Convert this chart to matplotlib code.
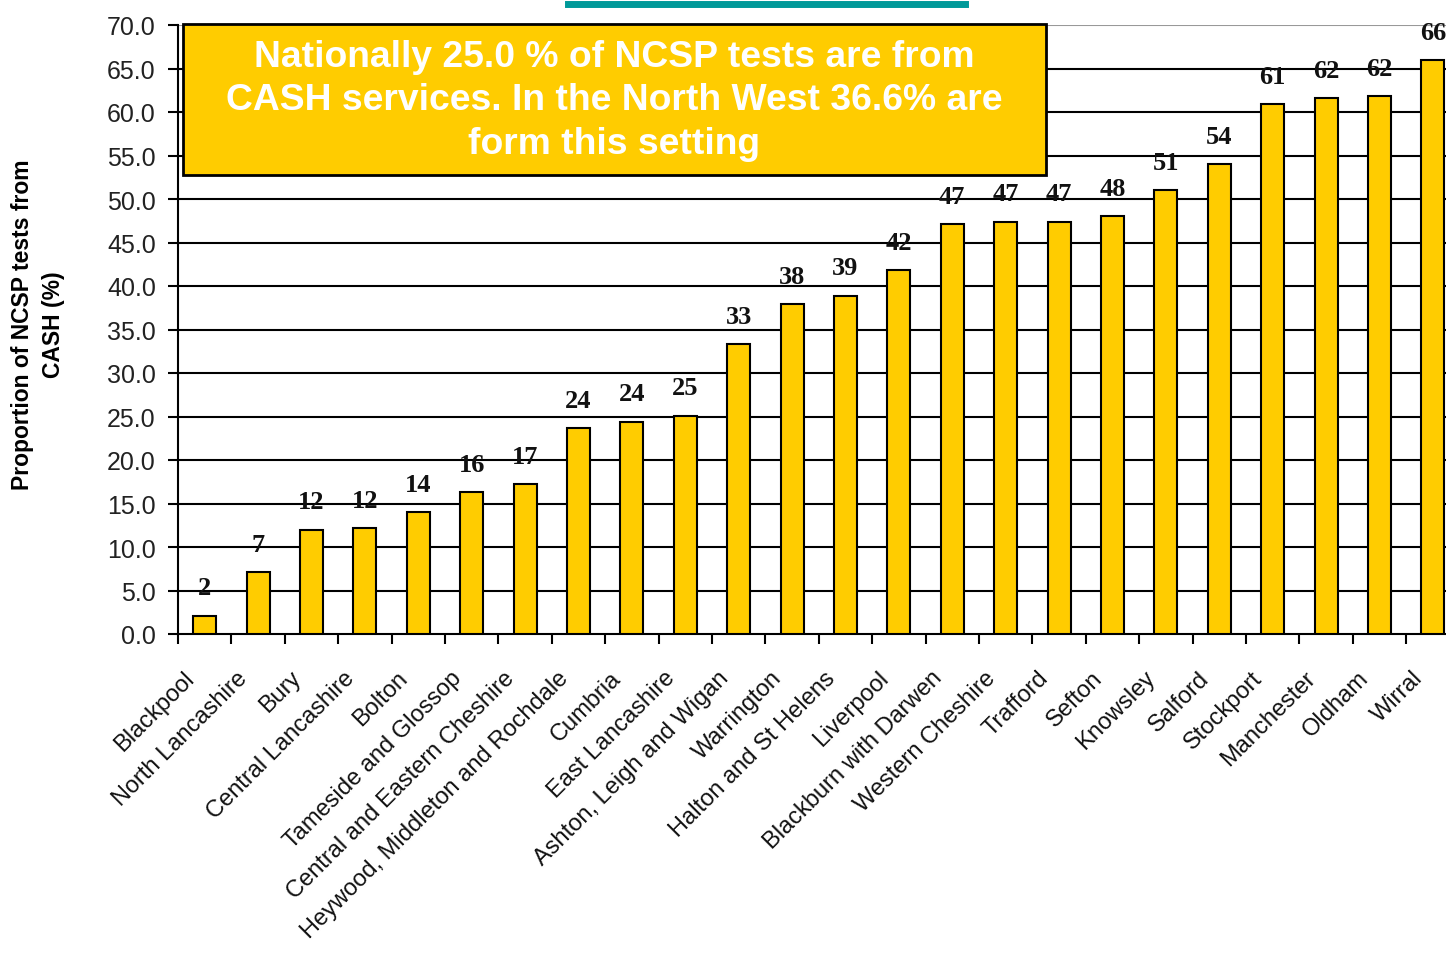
import matplotlib.pyplot as plt
from matplotlib.patches import Rectangle
from matplotlib.lines import Line2D
from matplotlib.transforms import ScaledTranslation

areas = ["Blackpool", "North Lancashire", "Bury", "Central Lancashire", "Bolton",
         "Tameside and Glossop", "Central and Eastern Cheshire",
         "Heywood, Middleton and Rochdale", "Cumbria", "East Lancashire",
         "Ashton, Leigh and Wigan", "Warrington", "Halton and St Helens",
         "Liverpool", "Blackburn with Darwen", "Western Cheshire", "Trafford",
         "Sefton", "Knowsley", "Salford", "Stockport", "Manchester", "Oldham",
         "Wirral"]
cash_pct = [2.1, 7.1, 12.0, 12.2, 14.0, 16.3, 17.2, 23.7, 24.4, 25.1, 33.3, 37.9,
            38.9, 41.8, 47.1, 47.4, 47.4, 48.0, 51.0, 54.0, 60.9, 61.6, 61.8, 66.0]
yticks = [0, 5, 10, 15, 20, 25, 30, 35, 40, 45, 50, 55, 60, 65, 70]

W, H = 1446, 954
fig = plt.figure(figsize=(W / 100, H / 100), dpi=100)
# plot area runs past the right edge of the figure
ax = fig.add_axes([178 / W, 1 - 635 / H, 24 * 53.4 / W, (635 - 26) / H])

x = range(len(areas))
ax.bar(x, cash_pct, width=0.43, color="#FFCC00", edgecolor="black",
       linewidth=1.5, zorder=3)

for i, v in enumerate(cash_pct):
    ax.annotate(f"{v:.0f}", (i, v), xytext=(0, 20), textcoords="offset points",
                ha="center", va="center", fontsize=19, fontweight="bold",
                family="Liberation Serif", color="#111111", zorder=4)

ax.set_xlim(-0.5, len(areas) - 0.5)
ax.set_ylim(0, 70)
ax.set_yticks(yticks)
ax.set_yticklabels([f"{t:.1f}" for t in yticks], family="Liberation Sans",
                   fontsize=18, color="#222222")
for t in yticks[1:-1]:
    ax.axhline(t, color="black", linewidth=1.5, zorder=1)
ax.axhline(70, color="#999999", linewidth=1.5, zorder=1)

ax.set_xticks([i + 0.5 for i in range(-1, len(areas))], minor=False)
ax.set_xticklabels([])
ax.set_xticks(list(x), minor=True)
ax.set_xticklabels(areas, minor=True, rotation=45, ha="right",
                   rotation_mode="anchor", va="center",
                   family="Liberation Sans", fontsize=17, color="#111111")
ax.tick_params(axis="x", which="minor", length=0, pad=29)
ax.tick_params(axis="x", which="major", length=7, width=1.5, direction="out")
ax.tick_params(axis="y", length=7, width=1.5, direction="out", pad=9)

# nudge the category names a little left of the bar centres
shift = ScaledTranslation(-10 / 72, 0, fig.dpi_scale_trans)
for lbl in ax.get_xticklabels(minor=True):
    lbl.set_transform(lbl.get_transform() + shift)

for s in ["top", "right"]:
    ax.spines[s].set_visible(False)
ax.spines["left"].set_linewidth(1.5)
ax.spines["bottom"].set_linewidth(1.5)

fig.text(38 / W, 1 - 325 / H, "Proportion of NCSP tests from\nCASH (%)",
         rotation=90, ha="center", va="center", fontsize=16.5,
         fontweight="bold", family="Liberation Sans", linespacing=1.45)

# callout box
box = Rectangle((183 / W, 1 - 176 / H), (1046 - 183) / W, (176 - 25) / H,
                transform=fig.transFigure, facecolor="#FFCC00",
                edgecolor="black", linewidth=2, zorder=5)
fig.add_artist(box)
fig.text(614 / W, 1 - 101 / H,
         "Nationally 25.0 % of NCSP tests are from\n"
         "CASH services. In the North West 36.6% are\n"
         "form this setting",
         ha="center", va="center", color="white", fontsize=26.8,
         fontweight="bold", family="Liberation Sans", linespacing=1.33,
         zorder=6)

# underline of the slide heading
fig.add_artist(Line2D([568 / W, 965 / W], [1 - 5 / H, 1 - 5 / H],
                      transform=fig.transFigure, color="#009999",
                      linewidth=5))

fig.savefig("out.png", dpi=100)
